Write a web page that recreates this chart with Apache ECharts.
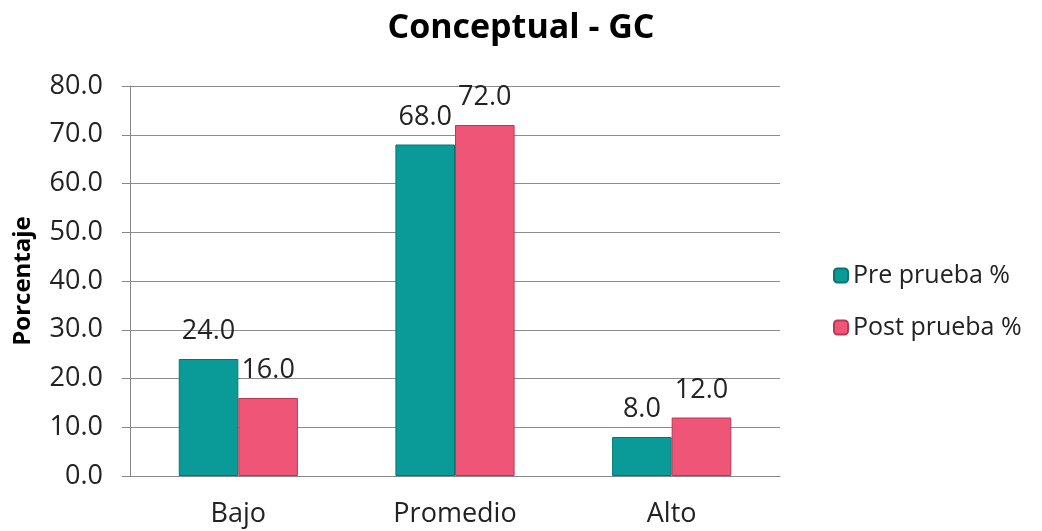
<!DOCTYPE html>
<html><head><meta charset="utf-8">
<script src="https://cdn.jsdelivr.net/npm/echarts@6/dist/echarts.min.js"></script>
<style>html,body{margin:0;padding:0;background:#fff}#c{width:1042px;height:531px}</style>
</head><body><div id="c"></div>
<script>
var categories = ['Bajo', 'Promedio', 'Alto'];
var preValues = [24.0, 68.0, 8.0];
var postValues = [16.0, 72.0, 12.0];
var seriesNames = ['Pre prueba %', 'Post prueba %'];
var yTicks = [0, 10, 20, 30, 40, 50, 60, 70, 80];

var F = '"Open Sans", "Noto Sans", sans-serif';
var chart = echarts.init(document.getElementById('c'));
function lbl(){return {show:true,position:'top',distance:14,fontSize:27,color:'#222',fontFamily:F,formatter:function(p){return p.value.toFixed(1);}};}
chart.setOption({
  animation:false,
  title:{text:'Conceptual - GC',left:'center',top:6,textStyle:{fontSize:34,fontWeight:'bold',color:'#000',fontFamily:F}},
  legend:{orient:'vertical',left:828,top:258,itemWidth:14,itemHeight:14,itemGap:27,
    textStyle:{fontSize:25,color:'#222',fontFamily:F},data:seriesNames},
  grid:{left:130,right:262,top:86,bottom:55,outerBoundsMode:'none',containLabel:false},
  xAxis:{type:'category',data:categories,
    axisLine:{lineStyle:{color:'#888'}},axisTick:{show:false},
    axisLabel:{fontSize:27,color:'#222',fontFamily:F,margin:25}},
  yAxis:{type:'value',min:yTicks[0],max:yTicks[yTicks.length-1],interval:10,
    name:'Porcentaje',nameLocation:'middle',nameGap:95,
    nameTextStyle:{fontSize:24,fontWeight:'bold',color:'#000',fontFamily:F},
    axisLine:{show:true,lineStyle:{color:'#888'}},
    axisTick:{show:true,length:8,lineStyle:{color:'#888'}},
    splitLine:{lineStyle:{color:'#8c8c8c'}},
    axisLabel:{fontSize:27,color:'#222',fontFamily:F,margin:27,formatter:function(v){return v.toFixed(1);}}},
  series:[
    {name:seriesNames[0],type:'bar',data:preValues,barGap:'0%',barCategoryGap:'45%',
      itemStyle:{color:'#0a9b98',borderColor:'#067572',borderWidth:1},label:lbl()},
    {name:seriesNames[1],type:'bar',data:postValues,
      itemStyle:{color:'#ee5577',borderColor:'#b83a57',borderWidth:1},label:lbl()}
  ]
});
</script></body></html>
